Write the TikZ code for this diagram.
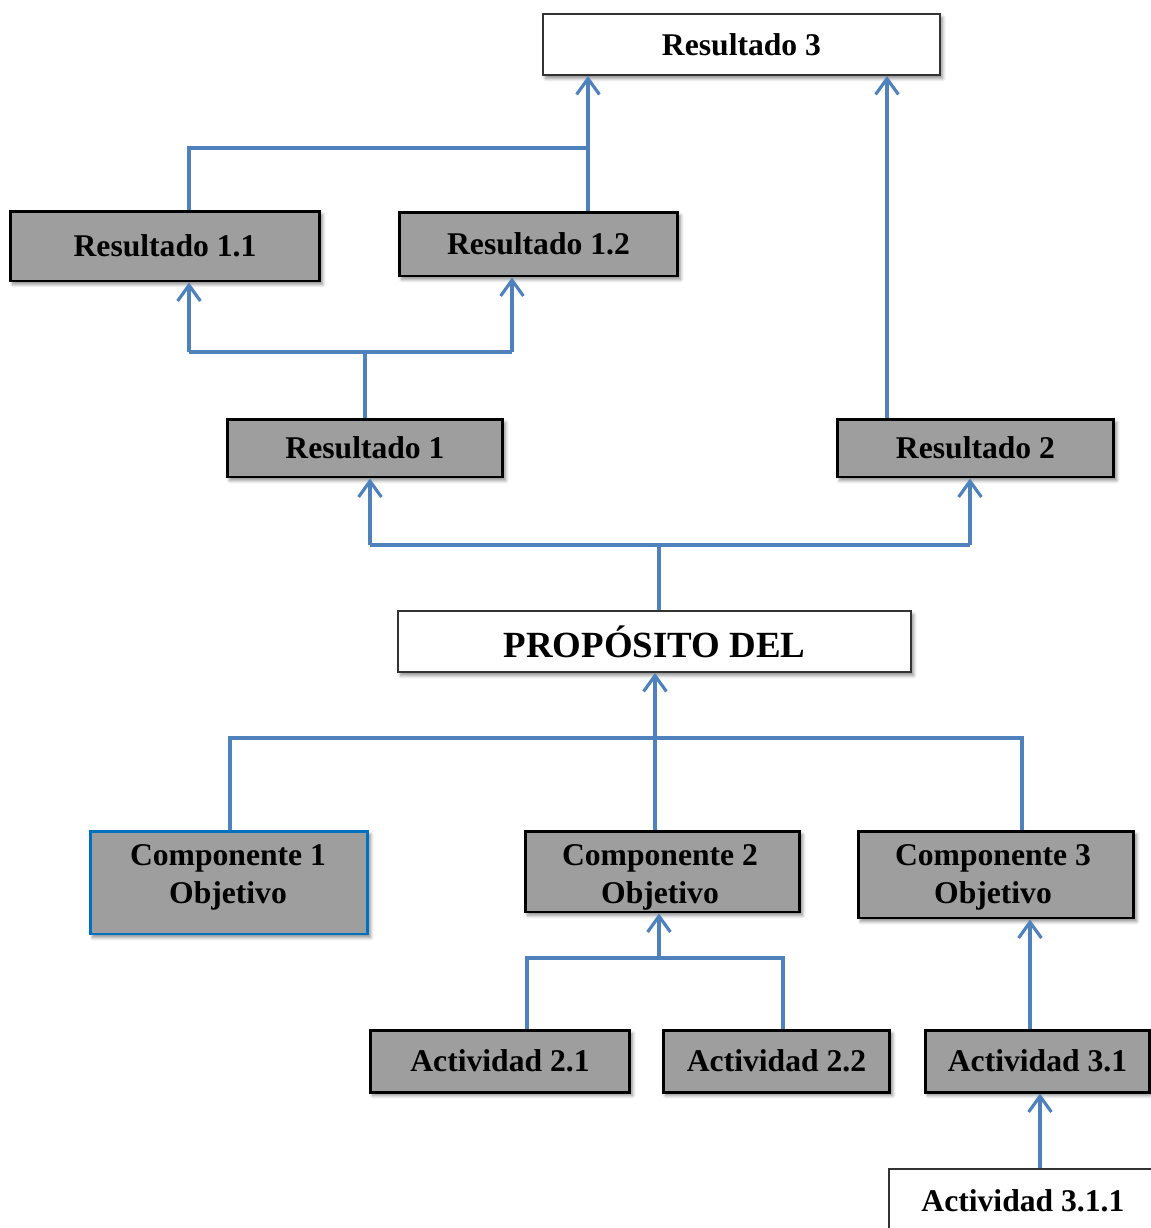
\documentclass[tikz,border=0pt]{standalone}
\usepackage{fontspec}
\setmainfont{Liberation Serif}
\usetikzlibrary{arrows.meta, shadows.blur}
\definecolor{linkblue}{RGB}{79,129,189}
\definecolor{boxgray}{RGB}{158,158,158}
\definecolor{compblue}{RGB}{0,112,192}

\begin{document}
\begin{tikzpicture}[x=0.02cm, y=-0.02cm, >={Straight Barb[length=9pt,width=13pt]}]
    \tikzstyle{label text}=[inner sep=0pt, align=center, font=\fontsize{18}{21.5}\selectfont\bfseries]
    \tikzstyle{box}=[rectangle, label text, blur shadow={shadow xshift=1.5pt, shadow yshift=-2pt, shadow blur steps=6, shadow opacity=45}]
    \tikzstyle{gray box}=[box, fill=boxgray, draw=black, line width=1.7pt]
    \tikzstyle{white box}=[box, fill=white, draw=black!80, line width=1.1pt]
    \tikzstyle{link}=[draw=linkblue, line width=1.8pt]

    \useasboundingbox (0,0) rectangle (1151,1228);

    % results
    \node[white box, minimum width=7.94cm, minimum height=1.22cm] (r3) at (741.5,44.5) {Resultado 3};
    \node[gray box, minimum width=6.2cm, minimum height=1.4cm] (r11) at (165,246) {Resultado 1.1};
    \node[gray box, minimum width=5.58cm, minimum height=1.28cm] (r12) at (538.5,244) {Resultado 1.2};
    \node[gray box, minimum width=5.52cm, minimum height=1.16cm] (r1) at (365,448) {Resultado 1};
    \node[gray box, minimum width=5.54cm, minimum height=1.16cm] (r2) at (975.5,448) {Resultado 2};
    \node[white box, minimum width=10.26cm, minimum height=1.22cm, font=\fontsize{21}{25}\selectfont\bfseries] (prop) at (654.5,641.5) {PROPÓSITO DEL};

    % components and activities
    \node[gray box, draw=compblue, minimum width=5.56cm, minimum height=2.06cm] (c1) at (229,882.5) {};
    \node[gray box, minimum width=5.5cm, minimum height=1.62cm] (c2) at (662.5,871.5) {};
    \node[gray box, minimum width=5.52cm, minimum height=1.74cm] (c3) at (996,874.5) {};
    \node[label text] (c1 text) at (228,877) {Componente 1\\Objetivo};
    \node[label text] (c2 text) at (660,877) {Componente 2\\Objetivo};
    \node[label text] (c3 text) at (993,877) {Componente 3\\Objetivo};
    \node[gray box, minimum width=5.2cm, minimum height=1.24cm] (a21) at (500,1061) {Actividad 2.1};
    \node[gray box, minimum width=4.54cm, minimum height=1.24cm] (a22) at (776.5,1061) {Actividad 2.2};
    \node[gray box, minimum width=4.5cm, minimum height=1.24cm] (a31) at (1037.5,1061) {Actividad 3.1};
    \node[white box, minimum width=5.36cm, minimum height=1.28cm, anchor=north west] (a311) at (888,1168) {Actividad 3.1.1};

    % top level
    \coordinate (j11) at (189,148);
    \coordinate (j12) at (588,148);
    \coordinate (j2) at (887,0);
    \draw[link] (r11.north -| j11) -- (j11) -- (j12);
    \draw[link,->] (r12.north -| j12) -- (r3.south -| j12);
    \draw[link,->] (r2.north -| j2) -- (r3.south -| j2);

    \coordinate (k1) at (189,352);
    \coordinate (k2) at (512,352);
    \draw[link] (r1.north) -- (r1.north |- k1);
    \draw[link] (k1) -- (k2);
    \draw[link,->] (k1) -- (r11.south -| k1);
    \draw[link,->] (k2) -- (r12.south -| k2);

    \coordinate (m0) at (659,545);
    \coordinate (m1) at (370,545);
    \coordinate (m2) at (970,545);
    \draw[link] (prop.north -| m0) -- (m0);
    \draw[link] (m1) -- (m2);
    \draw[link,->] (m1) -- (r1.south -| m1);
    \draw[link,->] (m2) -- (r2.south -| m2);

    % lower level
    \coordinate (n0) at (655,738);
    \coordinate (n1) at (230,738);
    \coordinate (n3) at (1022,738);
    \draw[link] (c1.north -| n1) -- (n1) -- (n3) -- (c3.north -| n3);
    \draw[link,->] (c2.north -| n0) -- (prop.south -| n0);

    \coordinate (q0) at (659,958);
    \coordinate (q1) at (527,958);
    \coordinate (q2) at (783,958);
    \draw[link] (a21.north -| q1) -- (q1) -- (q2) -- (a22.north -| q2);
    \draw[link,->] (q0) -- (c2.south -| q0);

    \coordinate (s1) at (1030,0);
    \coordinate (s2) at (1040,0);
    \draw[link,->] (a31.north -| s1) -- (c3.south -| s1);
    \draw[link,->] (a311.north -| s2) -- (a31.south -| s2);
\end{tikzpicture}
\end{document}
